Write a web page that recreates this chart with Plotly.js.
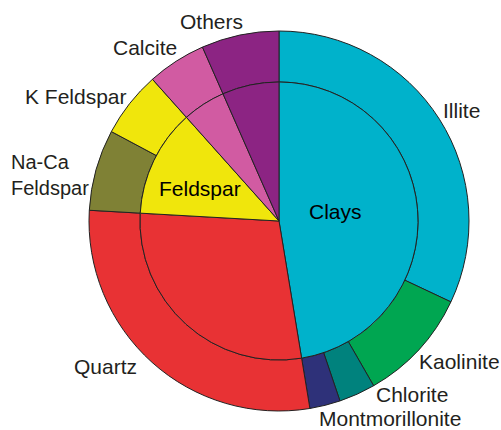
<!DOCTYPE html>
<html>
<head>
<meta charset="utf-8">
<script src="https://cdn.plot.ly/plotly-3.0.1.min.js"></script>
<style>html,body{margin:0;padding:0;background:#fff;}#chart{width:501px;height:430px;}</style>
</head>
<body>
<div id="chart"></div>
<script>
// Inner ring: mineral groups (% of total)
var innerLabels = ['Clays', 'Quartz', 'Feldspar', 'Calcite', 'Others'];
var innerValues = [47.4, 28.5, 12.5, 5.0, 6.6];
var innerShownText = ['Clays', '', 'Feldspar', '', ''];

// Outer ring: individual minerals (% of total)
var outerLabels = ['Illite', 'Kaolinite', 'Chlorite', 'Montmorillonite', 'Quartz',
                   'Na-Ca<br>Feldspar', 'K Feldspar', 'Calcite', 'Others'];
var outerValues = [32.0, 9.7, 3.1, 2.6, 28.5, 6.9, 5.6, 5.0, 6.6];

// Styles / layout (not data)
var innerColors = ['#00B2CB', '#E83234', '#F0E60C', '#D15BA2', '#8C2483'];
var outerColors = ['#00B2CB', '#00A651', '#00827D', '#2E3179', '#E83234',
                   '#7F8135', '#F0E60C', '#D15BA2', '#8C2483'];
// label centres in pixels
var outerLabelPos = [[461, 110], [459, 361], [412, 394], [390, 418], [105, 366],
                     [11, 175], [76, 96], [145, 47], [211, 22]];
var outerLabelSize = [21, 21, 21, 21, 21, 20, 21, 21, 21];
var innerLabelPos = [[335, 211], null, [200, 188], null, null];

var W = 501, H = 430;
var cx = 279, cy = 221, rOuter = 190, rInner = 139;
function dom(r) {
  return {
    x: [(cx - r) / W, (cx + r) / W],
    y: [1 - (cy + r) / H, 1 - (cy - r) / H]
  };
}
var fam = 'Liberation Sans, Arial, sans-serif';

var outer = {
  type: 'pie',
  labels: outerLabels,
  values: outerValues,
  sort: false,
  direction: 'clockwise',
  rotation: 0,
  hole: rInner / rOuter,
  domain: dom(rOuter),
  marker: {colors: outerColors, line: {color: '#222', width: 1}},
  textinfo: 'none',
  hoverinfo: 'none',
  showlegend: false
};
var inner = {
  type: 'pie',
  labels: innerLabels,
  values: innerValues,
  sort: false,
  direction: 'clockwise',
  rotation: 0,
  domain: dom(rInner),
  marker: {colors: innerColors, line: {color: '#222', width: 1}},
  textinfo: 'none',
  hoverinfo: 'none',
  showlegend: false
};

var annotations = [];
outerLabels.forEach(function (lab, i) {
  var p = outerLabelPos[i];
  var multi = lab.indexOf('<br>') >= 0;
  annotations.push({
    text: lab, xref: 'paper', yref: 'paper',
    x: p[0] / W, y: 1 - p[1] / H,
    xanchor: multi ? 'left' : 'center', yanchor: 'middle', align: 'left',
    showarrow: false, borderpad: 0, borderwidth: 0,
    font: {family: fam, size: outerLabelSize[i], color: '#231F20'}
  });
});
innerShownText.forEach(function (lab, i) {
  var p = innerLabelPos[i];
  if (!lab || !p) return;
  annotations.push({
    text: lab, xref: 'paper', yref: 'paper',
    x: p[0] / W, y: 1 - p[1] / H,
    xanchor: 'center', yanchor: 'middle',
    showarrow: false, borderpad: 0, borderwidth: 0,
    font: {family: fam, size: 21, color: '#000'}
  });
});

Plotly.newPlot('chart', [outer, inner], {
  width: W, height: H,
  margin: {l: 0, r: 0, t: 0, b: 0},
  paper_bgcolor: '#fff',
  showlegend: false,
  annotations: annotations
}, {staticPlot: true});
</script>
</body>
</html>
